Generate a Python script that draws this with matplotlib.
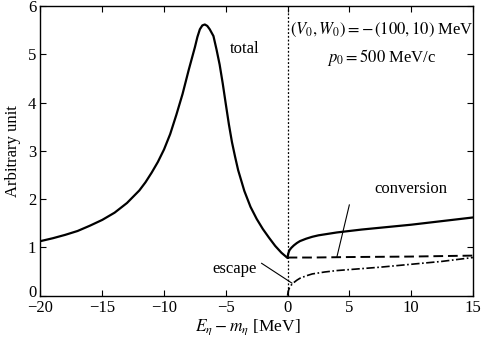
import matplotlib
matplotlib.use("Agg")
import matplotlib.pyplot as plt
from matplotlib.transforms import ScaledTranslation

plt.rcParams['font.family'] = ['Liberation Serif', 'DejaVu Serif']
plt.rcParams['mathtext.fontset'] = 'stix'

# total (below and above threshold)
total_x = [-20, -19, -18, -17, -16, -15, -14, -13, -12.5, -12, -11.5, -11, -10.5, -10,
           -9.5, -9, -8.5, -8, -7.5, -7.3, -7.1, -6.9, -6.7, -6.5, -6.3, -6.0, -5.75,
           -5.5, -5.25, -5.0, -4.75, -4.5, -4.25, -4.0, -3.5, -3.0, -2.5, -2.0, -1.5,
           -1.0, -0.5, 0,
           0.05, 0.15, 0.3, 0.5, 0.75, 1, 1.5, 2, 2.5, 3, 4, 5, 6, 8, 10, 12, 15]
total_y = [1.13, 1.19, 1.26, 1.34, 1.45, 1.57, 1.72, 1.92, 2.05, 2.18, 2.35, 2.55, 2.77, 3.03,
           3.35, 3.75, 4.18, 4.68, 5.15, 5.36, 5.52, 5.60, 5.62, 5.59, 5.52, 5.38, 5.10,
           4.79, 4.40, 3.97, 3.55, 3.18, 2.88, 2.60, 2.17, 1.84, 1.59, 1.38, 1.20,
           1.03, 0.89, 0.78,
           0.87, 0.94, 0.99, 1.04, 1.09, 1.13, 1.18, 1.22, 1.25, 1.27, 1.31, 1.34, 1.37,
           1.42, 1.47, 1.53, 1.62]

conv_x = [0, 2, 5, 10, 15]
conv_y = [0.79, 0.79, 0.80, 0.81, 0.83]

esc_x = [0, 0.05, 0.15, 0.3, 0.5, 0.75, 1, 1.5, 2, 2.5, 3, 4, 5, 7.5, 10, 12.5, 15]
esc_y = [0.0, 0.09, 0.16, 0.22, 0.27, 0.32, 0.36, 0.41, 0.45, 0.47, 0.49, 0.52, 0.54,
         0.59, 0.65, 0.71, 0.79]

x_ticks = [-20, -15, -10, -5, 0, 5, 10, 15]
y_ticks = [0, 1, 2, 3, 4, 5, 6]

FS = 12

fig = plt.figure(figsize=(4.85, 3.41), dpi=100)
ax = fig.add_axes([0.0835, 0.133, 0.8915, 0.849])

ax.axvline(0, color='black', lw=0.9, ls=(0, (1.5, 1.5)))
ax.plot(total_x, total_y, color='black', lw=1.6, solid_joinstyle='round')
ax.plot(conv_x, conv_y, color='black', lw=1.4, ls=(0, (5, 2.5)))
ax.plot(esc_x, esc_y, color='black', lw=1.2, ls=(0, (5, 1.5, 1, 1.5)))

ax.set_xlim(-20, 15)
ax.set_ylim(0, 6)
ax.set_xticks(x_ticks)
ax.set_xticklabels(['\u221220', '\u221215', '\u221210', '\u22125', '0', '5', '10', '15'])
ax.set_yticks(y_ticks)
ax.tick_params(direction='in', top=True, right=True, length=4, width=0.8,
               labelsize=FS, colors='black', pad=3)
for s in ax.spines.values():
    s.set_linewidth(1.0)
lab0 = ax.yaxis.get_major_ticks()[0].label1
lab0.set_transform(lab0.get_transform() + ScaledTranslation(0, 3.5 / 72, fig.dpi_scale_trans))

ax.set_xlabel(r'$E_\eta - m_\eta$ [MeV]', fontsize=FS + 0.5, labelpad=1)
ax.xaxis.label.set_x(0.48)
ax.set_ylabel('Arbitrary unit', fontsize=FS, labelpad=5)

ax.text(-3.5, 5.12, 'total', fontsize=FS, ha='center', va='center')
ax.text(10.0, 2.22, 'conversion', fontsize=FS, ha='center', va='center')
ax.plot([5.0, 4.0], [1.88, 0.81], color='black', lw=0.8)
ax.text(-4.3, 0.55, 'escape', fontsize=FS, ha='center', va='center')
ax.plot([-2.1, 0.35], [0.67, 0.26], color='black', lw=0.8)

ax.text(7.6, 5.51, r'$(V_0,W_0) = -\,(100,10)$ MeV', fontsize=FS, ha='center', va='center')
ax.text(7.6, 4.93, r'$p_0 = 500$ MeV/c', fontsize=FS, ha='center', va='center')

fig.savefig('out.png', dpi=100)
